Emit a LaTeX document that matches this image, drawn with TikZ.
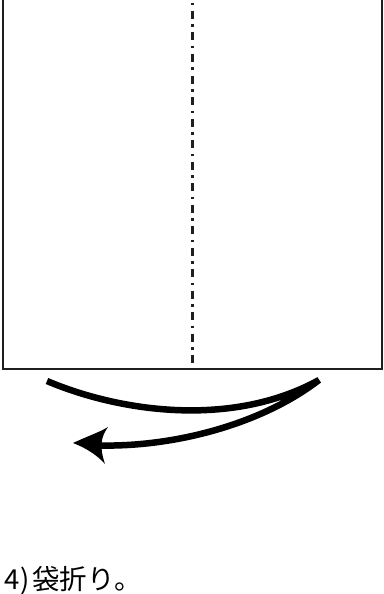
\documentclass[tikz,border=0pt]{standalone}
\usepackage{fontspec}
\newfontfamily\jpfont{Noto Sans CJK JP}
\begin{document}
\begin{tikzpicture}[x=1pt,y=-1pt,
  edge/.style={draw=black!88,line width=2pt},
  foldline/.style={draw=black!88,line width=2.7pt,dash pattern=on 2.5pt off 5.5pt on 8pt off 5.5pt,dash phase=-3pt},
  arrowstroke/.style={draw=black,line width=6.5pt,line join=bevel},
  label/.style={font=\jpfont\fontsize{27.5}{30}\selectfont,inner sep=0pt,anchor=base west}]
\useasboundingbox (0,0) rectangle (383,594);
\begin{scope}
\clip (0,0) rectangle (383,594);
\draw[edge] (3,-5) -- (3,369) -- (381.5,369) -- (381.5,-5);
\coordinate (ftop) at (192.8,0);
\coordinate (fbot) at (192.8,369);
\draw[foldline] (ftop) -- (fbot);
\coordinate (s) at (47,381);
\coordinate (turn) at (319,380);
\coordinate (e) at (100,445.5);
\draw[arrowstroke] (s) .. controls (120,412) and (232,428) .. (turn)
  .. controls (262,424) and (175,447) .. (e);
\fill[black] (73,443) .. controls (88,436) and (100,432) .. (108,427)
  .. controls (101,437) and (99,446) .. (105,464)
  .. controls (97,455) and (86,448) .. cycle;
\end{scope}
\node[label] (cap) at (4,589) {4\kern1.5pt)\kern2pt 袋折り。};
\end{tikzpicture}
\end{document}
